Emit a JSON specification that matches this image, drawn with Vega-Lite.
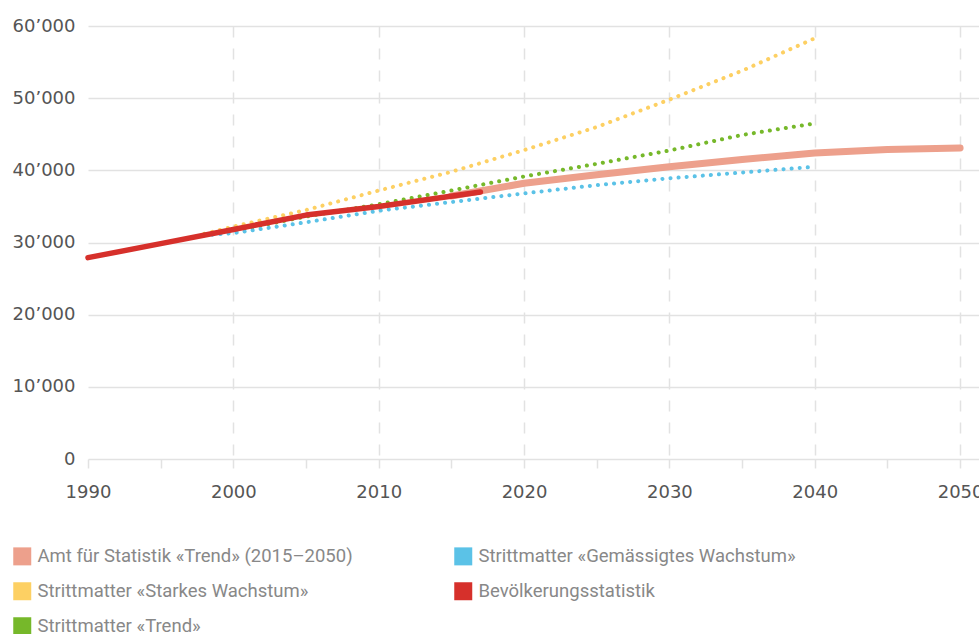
{
  "$schema": "https://vega.github.io/schema/vega-lite/v6.json",
  "width": 891,
  "height": 433,
  "autosize": {"type": "none"},
  "padding": {"left": 88, "top": 26, "right": 0, "bottom": 175},
  "background": "white",
  "data": {
    "values": [
      {"s": "Bevölkerungsstatistik", "year": 1990, "v": 27900},
      {"s": "Bevölkerungsstatistik", "year": 1995, "v": 29850},
      {"s": "Bevölkerungsstatistik", "year": 2000, "v": 31800},
      {"s": "Bevölkerungsstatistik", "year": 2005, "v": 33800},
      {"s": "Bevölkerungsstatistik", "year": 2010, "v": 35000},
      {"s": "Bevölkerungsstatistik", "year": 2017, "v": 37000},
      {"s": "Amt für Statistik «Trend» (2015–2050)", "year": 2015, "v": 36450},
      {"s": "Amt für Statistik «Trend» (2015–2050)", "year": 2020, "v": 38200},
      {"s": "Amt für Statistik «Trend» (2015–2050)", "year": 2025, "v": 39400},
      {"s": "Amt für Statistik «Trend» (2015–2050)", "year": 2030, "v": 40500},
      {"s": "Amt für Statistik «Trend» (2015–2050)", "year": 2035, "v": 41500},
      {"s": "Amt für Statistik «Trend» (2015–2050)", "year": 2040, "v": 42400},
      {"s": "Amt für Statistik «Trend» (2015–2050)", "year": 2045, "v": 42900},
      {"s": "Amt für Statistik «Trend» (2015–2050)", "year": 2050, "v": 43100},
      {"s": "Strittmatter «Starkes Wachstum»", "year": 1998, "v": 31200},
      {"s": "Strittmatter «Starkes Wachstum»", "year": 2000, "v": 32200},
      {"s": "Strittmatter «Starkes Wachstum»", "year": 2005, "v": 34500},
      {"s": "Strittmatter «Starkes Wachstum»", "year": 2010, "v": 37200},
      {"s": "Strittmatter «Starkes Wachstum»", "year": 2015, "v": 39800},
      {"s": "Strittmatter «Starkes Wachstum»", "year": 2020, "v": 42800},
      {"s": "Strittmatter «Starkes Wachstum»", "year": 2025, "v": 46000},
      {"s": "Strittmatter «Starkes Wachstum»", "year": 2030, "v": 49800},
      {"s": "Strittmatter «Starkes Wachstum»", "year": 2035, "v": 53800},
      {"s": "Strittmatter «Starkes Wachstum»", "year": 2040, "v": 58300},
      {"s": "Strittmatter «Trend»", "year": 1998, "v": 31100},
      {"s": "Strittmatter «Trend»", "year": 2000, "v": 31600},
      {"s": "Strittmatter «Trend»", "year": 2005, "v": 33600},
      {"s": "Strittmatter «Trend»", "year": 2010, "v": 35300},
      {"s": "Strittmatter «Trend»", "year": 2015, "v": 37200},
      {"s": "Strittmatter «Trend»", "year": 2020, "v": 39150},
      {"s": "Strittmatter «Trend»", "year": 2025, "v": 40900},
      {"s": "Strittmatter «Trend»", "year": 2030, "v": 42750},
      {"s": "Strittmatter «Trend»", "year": 2035, "v": 44900},
      {"s": "Strittmatter «Trend»", "year": 2040, "v": 46500},
      {"s": "Strittmatter «Gemässigtes Wachstum»", "year": 1998, "v": 31000},
      {"s": "Strittmatter «Gemässigtes Wachstum»", "year": 2000, "v": 31300},
      {"s": "Strittmatter «Gemässigtes Wachstum»", "year": 2005, "v": 32800},
      {"s": "Strittmatter «Gemässigtes Wachstum»", "year": 2010, "v": 34400},
      {"s": "Strittmatter «Gemässigtes Wachstum»", "year": 2015, "v": 35600},
      {"s": "Strittmatter «Gemässigtes Wachstum»", "year": 2020, "v": 36800},
      {"s": "Strittmatter «Gemässigtes Wachstum»", "year": 2025, "v": 37950},
      {"s": "Strittmatter «Gemässigtes Wachstum»", "year": 2030, "v": 38900},
      {"s": "Strittmatter «Gemässigtes Wachstum»", "year": 2035, "v": 39700},
      {"s": "Strittmatter «Gemässigtes Wachstum»", "year": 2040, "v": 40500}
    ]
  },
  "encoding": {
    "x": {
      "field": "year",
      "type": "quantitative",
      "scale": {"domain": [1990, 2051.3], "nice": false, "zero": false},
      "axis": {
        "title": null,
        "values": [1990, 1995, 2000, 2005, 2010, 2015, 2020, 2025, 2030, 2035, 2040, 2045, 2050],
        "format": "d",
        "domain": false,
        "grid": true,
        "gridDash": [11, 11],
        "gridColor": "#e2e2e2",
        "gridWidth": 1.5,
        "gridOpacity": {"condition": {"test": "datum.value % 10 != 0 || datum.value == 1990", "value": 0}, "value": 1},
        "ticks": true,
        "tickSize": 9,
        "tickColor": "#e2e2e2",
        "tickWidth": 1.5,
        "labelExpr": "datum.value % 10 == 0 ? datum.label : ''",
        "labelOverlap": false,
        "labelFlush": false,
        "labelFont": "DejaVu Sans",
        "labelFontSize": 18,
        "labelColor": "#555555",
        "labelPadding": 15
      }
    },
    "y": {
      "field": "v",
      "type": "quantitative",
      "scale": {"domain": [0, 60000], "nice": false},
      "axis": {
        "title": null,
        "values": [0, 10000, 20000, 30000, 40000, 50000, 60000],
        "domain": false,
        "ticks": false,
        "grid": true,
        "gridColor": "#e2e2e2",
        "gridWidth": 1.5,
        "labelExpr": "replace(format(datum.value, ','), ',', '’')",
        "labelFont": "DejaVu Sans",
        "labelFontSize": 18,
        "labelColor": "#555555",
        "labelPadding": 13
      }
    },
    "color": {
      "field": "s",
      "type": "nominal",
      "scale": {
        "domain": ["Amt für Statistik «Trend» (2015–2050)", "Strittmatter «Gemässigtes Wachstum»", "Strittmatter «Starkes Wachstum»", "Bevölkerungsstatistik", "Strittmatter «Trend»"],
        "range": ["#EDA08C", "#5BC2E7", "#FDD063", "#D6302B", "#76B82A"]
      },
      "legend": {
        "title": null,
        "orient": "none",
        "legendX": -75,
        "legendY": 521,
        "direction": "horizontal",
        "columns": 2,
        "symbolType": "square",
        "symbolSize": 324,
        "symbolStrokeWidth": 0,
        "symbolDash": [],
        "symbolOpacity": 1,
        "labelFont": "Roboto",
        "labelFontSize": 18.5,
        "labelColor": "#888888",
        "labelOffset": 6,
        "labelLimit": 500,
        "rowPadding": 16,
        "columnPadding": 101,
        "encode": {"symbols": {"update": {"fill": {"scale": "color", "field": "value"}, "strokeWidth": {"value": 0}}}}
      }
    }
  },
  "layer": [
    {
      "transform": [{"filter": {"field": "s", "oneOf": ["Strittmatter «Starkes Wachstum»", "Strittmatter «Gemässigtes Wachstum»", "Strittmatter «Trend»"]}}],
      "mark": {"type": "line", "strokeWidth": 4, "strokeDash": [0.1, 8], "strokeCap": "round"}
    },
    {
      "transform": [{"filter": {"field": "s", "equal": "Amt für Statistik «Trend» (2015–2050)"}}],
      "mark": {"type": "line", "strokeWidth": 7, "strokeCap": "round", "strokeJoin": "round"}
    },
    {
      "transform": [{"filter": {"field": "s", "equal": "Bevölkerungsstatistik"}}],
      "mark": {"type": "line", "strokeWidth": 5.5, "strokeCap": "round", "strokeJoin": "round"}
    }
  ],
  "config": {"view": {"stroke": null}}
}
